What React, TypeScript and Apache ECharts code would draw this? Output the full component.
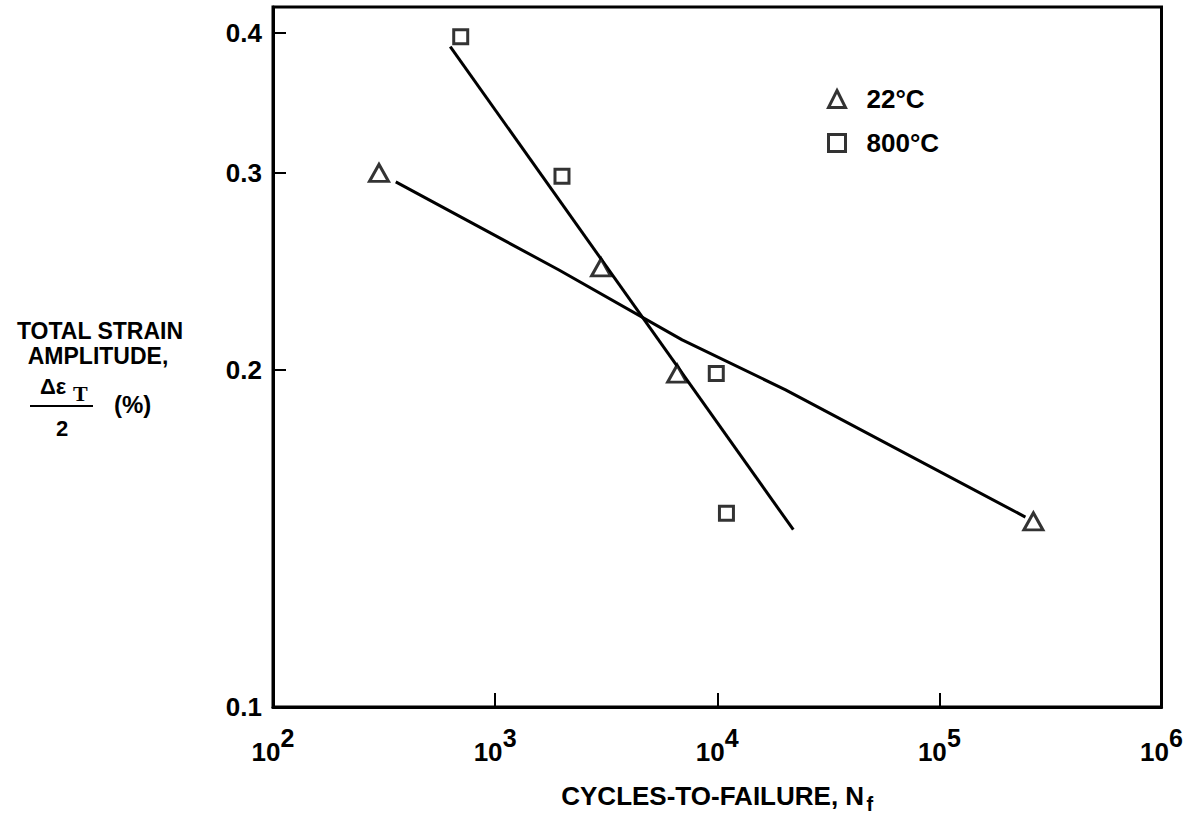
import React, { useEffect, useRef } from "react";
import * as echarts from "echarts";

// ---- data ----
const seriesNames = ["22°C", "800°C"];
const cycles22 = [300, 3000, 6600, 265000];
const strain22 = [0.3, 0.247, 0.1985, 0.1465];
const cycles800 = [700, 2000, 9900, 11000];
const strain800 = [0.397, 0.298, 0.1986, 0.149];
// fitted lines (hand-drawn in the original)
const fit22Cycles = [357, 1930, 6950, 20300, 244000];
const fit22Strain = [0.2945, 0.2458, 0.2128, 0.192, 0.1478];
const fit800Cycles = [628, 22000];
const fit800Strain = [0.389, 0.144];
// axes
const yTickValues = [0.1, 0.2, 0.3, 0.4];
const xMin = 100;
const xMax = 1e6;
const yMin = 0.1;
const yMax = 0.422;
const xTitle = "CYCLES-TO-FAILURE, N";
const xTitleSub = "f";
const yTitleLines = ["TOTAL STRAIN", "AMPLITUDE,"];

const FONT = '"Liberation Sans", Arial, Helvetica, sans-serif';

const zip = (xs: number[], ys: number[]) => xs.map((x, i) => [x, ys[i]]);

function buildOption(): any {
  const markerStyle = { color: "#fff", borderColor: "#000", borderWidth: 3 };
  const bold = { fontFamily: FONT, fontWeight: "bold", color: "#000" };
  const txt = (text: string, x: number, y: number, fontSize: number, align = "center", family = FONT) => ({
    type: "text",
    x,
    y,
    style: {
      text,
      fontFamily: family,
      fontSize,
      fontWeight: "bold",
      fill: "#000",
      align,
      verticalAlign: "middle",
    },
  });
  return {
    animation: false,
    backgroundColor: "#fff",
    grid: {
      left: 273,
      right: 19,
      top: 7,
      bottom: 116,
      show: true,
      borderColor: "#000",
      borderWidth: 3,
      backgroundColor: "transparent",
    },
    legend: {
      data: [
        { name: seriesNames[0], icon: "triangle" },
        { name: seriesNames[1], icon: "rect" },
      ],
      orient: "vertical",
      left: 827,
      top: 86,
      padding: 0,
      itemWidth: 17,
      itemHeight: 17,
      itemGap: 18,
      selectedMode: false,
      itemStyle: { color: "#fff", borderColor: "#000", borderWidth: 3 },
      textStyle: {
        ...bold,
        fontSize: 26,
        padding: [0, 0, 0, 16],
      },
    },
    xAxis: {
      type: "log",
      logBase: 10,
      min: xMin,
      max: xMax,
      name: "{n|" + xTitle + "}\n{f|" + xTitleSub + "}",
      nameLocation: "middle",
      nameGap: 84,
      nameTextStyle: {
        rich: {
          n: { ...bold, fontSize: 26, lineHeight: 10, width: 312, align: "left" },
          f: { ...bold, fontSize: 20, lineHeight: 6, width: 312, align: "right" },
        },
      },
      axisLine: { show: true, lineStyle: { color: "#000", width: 3 } },
      axisTick: { show: true, inside: true, length: 14, lineStyle: { color: "#000", width: 2 } },
      splitLine: { show: false },
      axisLabel: {
        margin: 30,
        hideOverlap: false,
        showMinLabel: true,
        showMaxLabel: true,
        formatter: (v: number) => "{s|" + Math.round(Math.log10(v)) + "}\n{b|10}",
        rich: {
          s: { ...bold, fontSize: 25, lineHeight: 2, width: 43, align: "right" },
          b: { ...bold, fontSize: 26, lineHeight: 26, width: 43, align: "left" },
        },
      },
    },
    yAxis: {
      type: "log",
      logBase: 10,
      min: yMin,
      max: yMax,
      axisLine: { show: true, lineStyle: { color: "#000", width: 3 } },
      axisTick: {
        show: true,
        inside: true,
        length: 13,
        customValues: yTickValues,
        lineStyle: { color: "#000", width: 2 },
      },
      splitLine: { show: false },
      axisLabel: {
        margin: 11,
        customValues: yTickValues,
        hideOverlap: false,
        showMinLabel: true,
        formatter: (v: number) => v.toFixed(1),
        ...bold,
        fontSize: 26,
      },
    },
    graphic: [
      txt(yTitleLines[0], 100, 331, 23),
      txt(yTitleLines[1], 98, 356, 23),
      txt("Δε", 40, 386, 22, "left"),
      txt("T", 73, 393, 22, "left", '"Liberation Serif", "DejaVu Serif", serif'),
      {
        type: "line",
        shape: { x1: 30, y1: 406, x2: 93, y2: 406 },
        style: { stroke: "#000", lineWidth: 2 },
      },
      txt("2", 62, 428, 22),
      txt("(%)", 114, 404, 24, "left"),
    ],
    series: [
      {
        name: seriesNames[0] + " fit",
        type: "line",
        data: zip(fit22Cycles, fit22Strain),
        symbol: "none",
        lineStyle: { color: "#000", width: 3 },
        z: 2,
        silent: true,
      },
      {
        name: seriesNames[1] + " fit",
        type: "line",
        data: zip(fit800Cycles, fit800Strain),
        symbol: "none",
        lineStyle: { color: "#000", width: 3 },
        z: 2,
        silent: true,
      },
      {
        name: seriesNames[0],
        type: "scatter",
        symbol: "triangle",
        symbolSize: [19, 17],
        data: zip(cycles22, strain22),
        itemStyle: markerStyle,
        z: 3,
      },
      {
        name: seriesNames[1],
        type: "scatter",
        symbol: "rect",
        symbolSize: 14,
        data: zip(cycles800, strain800),
        itemStyle: markerStyle,
        z: 3,
      },
    ],
  };
}

export default function App() {
  const ref = useRef<HTMLDivElement>(null);
  useEffect(() => {
    if (!ref.current) return;
    const chart = echarts.init(ref.current, null, { renderer: "svg" });
    chart.setOption(buildOption());
    return () => chart.dispose();
  }, []);
  return (
    <div
      ref={ref}
      style={{ position: "fixed", left: 0, top: 0, width: 1186, height: 823, background: "#fff" }}
    />
  );
}
